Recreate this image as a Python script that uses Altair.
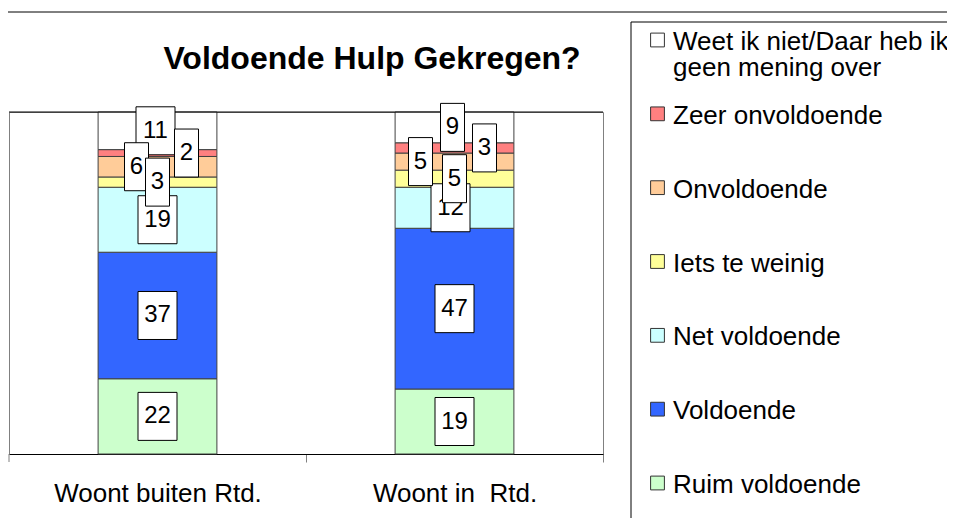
import altair as alt
import pandas as pd

FONT = "Liberation Sans, Arial, sans-serif"

groups = ["Woont buiten Rtd.", "Woont in  Rtd."]
categories = [
    "Ruim voldoende",
    "Voldoende",
    "Net voldoende",
    "Iets te weinig",
    "Onvoldoende",
    "Zeer onvoldoende",
    "Weet ik niet/Daar heb ik geen mening over",
]
buiten = [22, 37, 19, 3, 6, 2, 11]
binnen = [19, 47, 12, 5, 5, 3, 9]
colors = ["#CCFFCC", "#3366FF", "#CCFFFF", "#FFFF99", "#FFCC99", "#FF8080", "#FFFFFF"]
title_text = "Voldoende Hulp Gekregen?"

rows = []
for gi, (g, vals) in enumerate(zip(groups, [buiten, binnen])):
    for ci, (c, v) in enumerate(zip(categories, vals)):
        rows.append({"group": g, "gi": gi, "cat": c, "ord": ci, "value": v})
df = pd.DataFrame(rows)
legdf = pd.DataFrame({"cat": categories[::-1]})

PLOT_W = 594
P_IN, P_OUT = 0.6, 0.3
HALF_BAND = PLOT_W / (2 - P_IN + 2 * P_OUT) * (1 - P_IN) / 2
HALF_STEP = PLOT_W / (2 - P_IN + 2 * P_OUT) / 2

color_scale = alt.Scale(domain=categories, range=colors)
y_scale = alt.Scale(domain=[0, 100], nice=False, zero=True)
x_scale = alt.Scale(paddingInner=P_IN, paddingOuter=P_OUT)
x_enc = alt.X(
    "group:N",
    sort=groups,
    title=None,
    scale=x_scale,
    axis=alt.Axis(
        labelFont=FONT, labelFontSize=26, labelColor="black", labelAngle=0,
        labelPadding=18, labelLimit=0, tickSize=8, tickColor="#808080",
        tickOffset=HALF_STEP, labelOffset=-HALF_STEP,
        domainColor="black", domainWidth=1, grid=False,
        labelExpr="replace(datum.label, '  ', ' \u00a0')",
    ),
)

base = alt.Chart(df).transform_stack(
    stack="value", groupby=["group"], as_=["y0", "y1"],
    sort=[alt.SortField("ord", order="ascending")],
).transform_calculate(
    mid="(datum.y0 + datum.y1) / 2",
    draw="datum.ord <= 2 ? datum.ord : 9 - datum.ord",
    nd="length(toString(datum.value))",
    shift=(f"{HALF_BAND} + (datum.ord == 4 ? (datum.gi == 0 ? -21 : -34) : "
           "datum.ord == 5 ? (datum.gi == 0 ? 29 : 30) : "
           "datum.ord == 6 ? -2 : (datum.ord == 2 && datum.gi == 1 ? -4 : 0))"),
)

bars = base.mark_bar(stroke="#404040", strokeWidth=1).encode(
    x=x_enc,
    y=alt.Y("y0:Q", scale=y_scale, axis=None),
    y2="y1:Q",
    color=alt.Color("cat:N", scale=color_scale, legend=None),
)

p1 = "M-1,-2H1V2H-1Z"
p2 = "M-1.625,-2H1.625V2H-1.625Z"
shape_enc = alt.Shape("nd:O", scale=alt.Scale(domain=[1, 2], range=[p1, p2]), legend=None)


def label_layers(filt):
    sub = base.transform_filter(filt)
    xe = alt.X("group:N", sort=groups, scale=x_scale)
    boxes = sub.mark_point(filled=True, fill="white", stroke="black", strokeWidth=1,
                           opacity=1, size=576).encode(
        x=xe,
        xOffset=alt.XOffset("shift:Q", scale=None),
        y=alt.Y("mid:Q", scale=y_scale, axis=None),
        shape=shape_enc,
        order=alt.Order("draw:Q"),
    )
    texts = sub.mark_text(font=FONT, fontSize=24, color="black", align="center",
                          baseline="middle").encode(
        x=xe,
        xOffset=alt.XOffset("shift:Q", scale=None),
        y=alt.Y("mid:Q", scale=y_scale, axis=None),
        text="value:Q",
        order=alt.Order("draw:Q"),
    )
    return [boxes, texts]


lab_main = label_layers("datum.ord != 3")
lab_top = label_layers("datum.ord == 3")

leg_y = alt.Y("cat:N", scale=alt.Scale(type="point", domain=categories[::-1],
                                        range=[-72, 371], padding=0), axis=None)
leg_base = alt.Chart(legdf).transform_calculate(
    disp="replace(datum.cat, 'heb ik ', 'heb ik|')"
)
leg_sym = leg_base.mark_square(size=190, filled=True, stroke="#333333", strokeWidth=1,
                               opacity=1).encode(
    x=alt.value(648.5),
    y=leg_y,
    color=alt.Color("cat:N", scale=color_scale, legend=None),
)
leg_txt = leg_base.mark_text(font=FONT, fontSize=26, color="black", align="left",
                             baseline="top", dy=-11, lineBreak="|", lineHeight=26).encode(
    x=alt.value(664),
    y=leg_y,
    text="disp:N",
)

one = alt.Chart(pd.DataFrame({"a": [0]}))
outer_frame = one.mark_rect(fillOpacity=0, stroke="black", strokeWidth=1).encode(
    x=alt.value(-2), x2=alt.value(1100), y=alt.value(-100), y2=alt.value(700)
)
legend_frame = one.mark_rect(fill="white", stroke="black", strokeWidth=1).encode(
    x=alt.value(622), x2=alt.value(1100), y=alt.value(-90), y2=alt.value(700)
)
top_line = one.mark_rule(color="black", strokeWidth=1).encode(
    x=alt.value(0), x2=alt.value(PLOT_W), y=alt.value(0)
)
left_tick = one.mark_rule(color="#808080", strokeWidth=1).encode(
    x=alt.value(0), y=alt.value(342), y2=alt.value(350)
)

chart = alt.layer(
    outer_frame, legend_frame, bars, top_line, left_tick,
    *lab_main, *lab_top, leg_sym, leg_txt
).resolve_scale(y="independent").properties(
    width=PLOT_W,
    height=342,
    autosize=alt.AutoSizeParams(type="none"),
    padding={"left": 1, "top": 104, "right": 344, "bottom": 64},
    title=alt.TitleParams(title_text, font=FONT, fontSize=32, fontWeight="bold",
                          color="black", anchor="middle", frame="group", dx=66,
                          baseline="alphabetic", offset=-89),
).configure_view(stroke="#808080", strokeWidth=1)

chart.save("out.html", embed_options={"renderer": "svg", "actions": False})
